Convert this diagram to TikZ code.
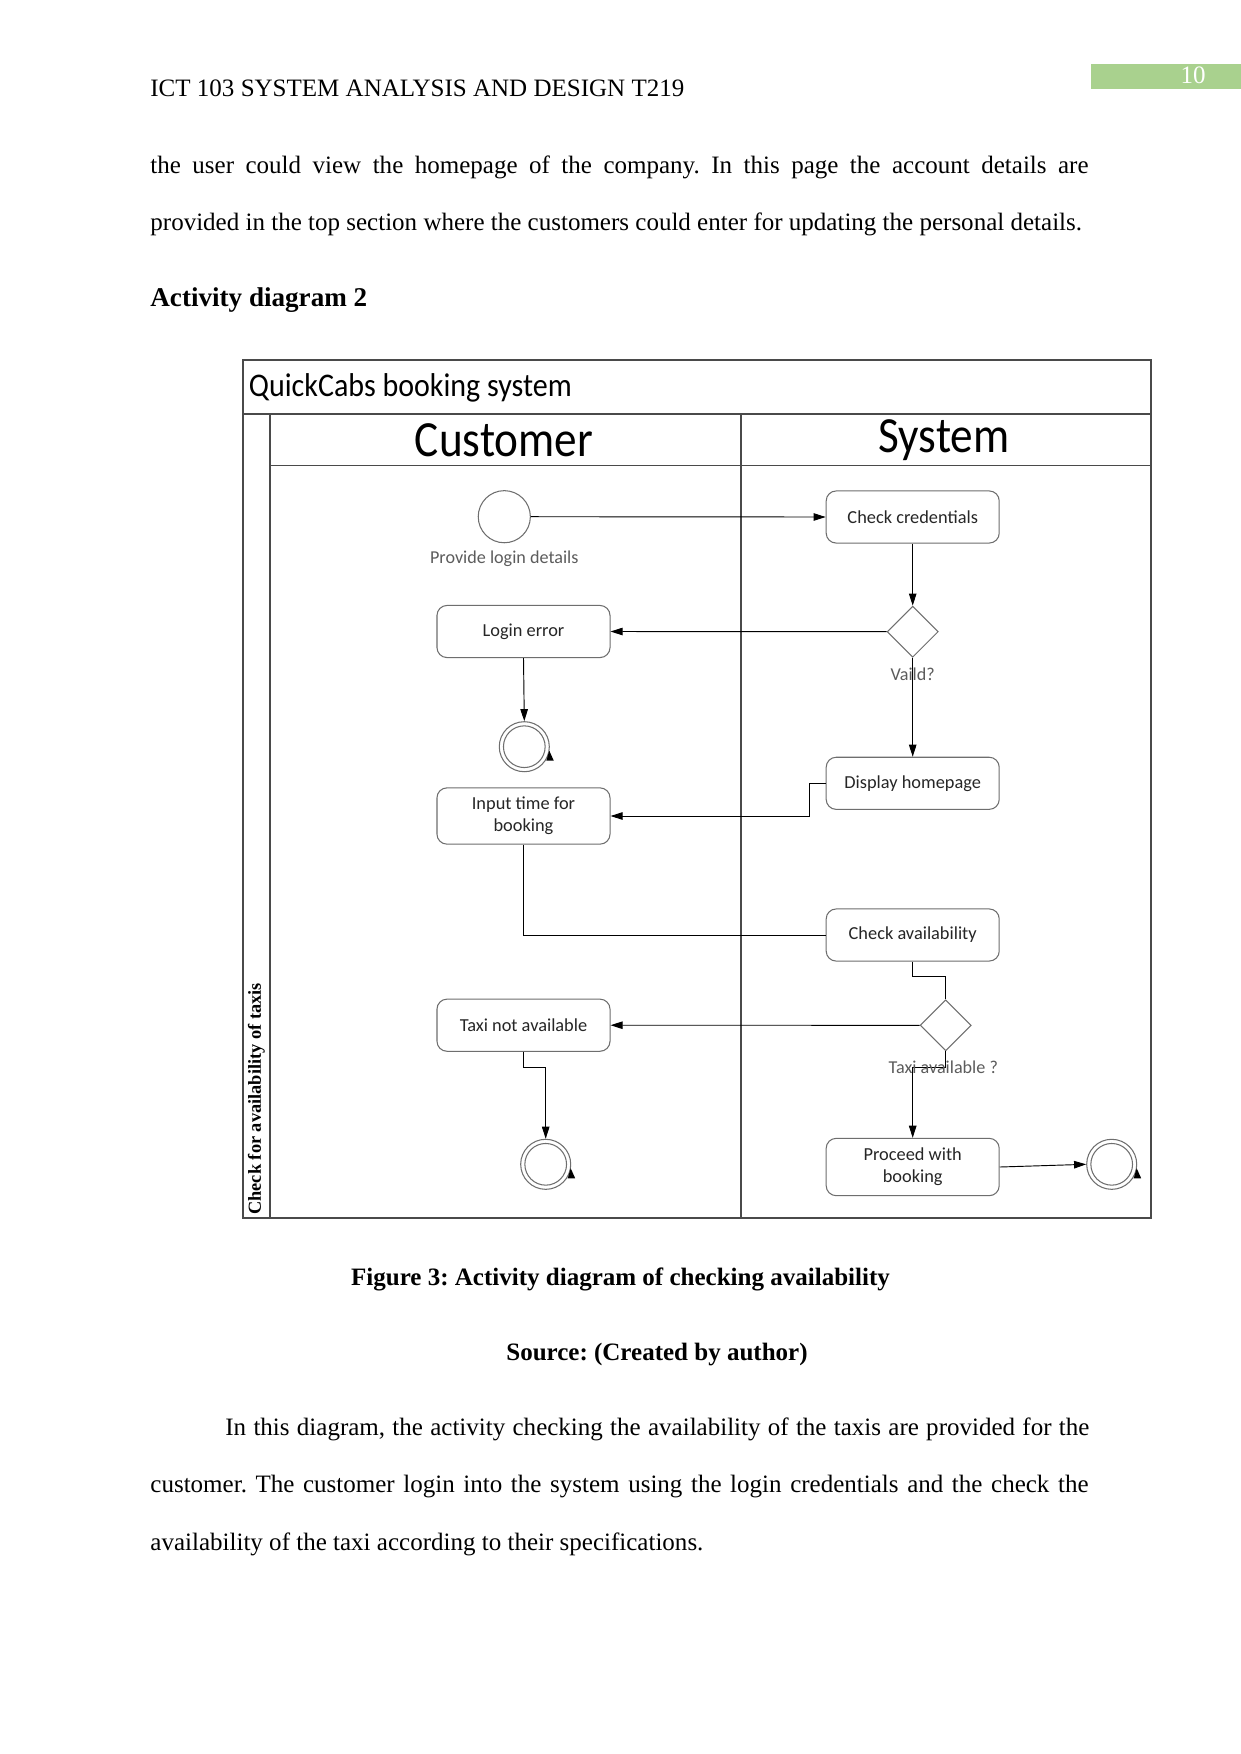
\documentclass[tikz,border=0pt]{standalone}
\usepackage{fontspec}
\setmainfont{Liberation Serif}
\newfontfamily\calfont{Carlito}
\usetikzlibrary{arrows.meta,shapes.geometric}
\definecolor{pggreen}{HTML}{A9D18E}
\definecolor{boxgray}{HTML}{6E6E6E}
\definecolor{lblgray}{HTML}{5C5C5C}
\definecolor{framegray}{HTML}{4A4A4A}
\begin{document}
\frenchspacing
\begin{tikzpicture}[x=0.47968pt,y=-0.47968pt,
  bodytext/.style={inner sep=0pt,font=\fontsize{12}{14}\selectfont,text=black},
  actbox/.style={rectangle,rounded corners=4.8pt,draw=boxgray,line width=0.5pt,fill=white,
    minimum width=83pt,minimum height=25pt,inner sep=1pt,align=center,
    font=\calfont\fontsize{8.8}{10.4}\selectfont,text=black!85},
  decbox/.style={diamond,draw=boxgray,line width=0.5pt,fill=white,inner sep=0pt,
    minimum width=24.5pt,minimum height=24.5pt,shape aspect=1},
  startnode/.style={circle,draw=boxgray,line width=0.5pt,fill=white,inner sep=0pt,minimum size=25pt},
  finalnode/.style={circle,draw=boxgray,line width=0.5pt,fill=white,inner sep=0pt,minimum size=24pt},
  lbl/.style={inner sep=0pt,font=\calfont\fontsize{8.7}{10}\selectfont,text=lblgray},
  conn/.style={line width=0.45pt,draw=black},
  arr/.style={conn,-{Triangle[length=5.8pt,width=3.6pt]}},
  frame/.style={line width=0.55pt,draw=framegray}
]
\useasboundingbox (0,0) rectangle (1241,1754);
\fill[white] (0,0) rectangle (1241,1754);

% page header
\node[bodytext,anchor=mid west] (hdr) at (150,91.8) {ICT 103 SYSTEM ANALYSIS AND DESIGN T219};
\node[fill=pggreen,minimum width=72pt,minimum height=12.3pt,inner sep=0pt] (pg) at (1166,76.6) {};
\node[bodytext,text=white] (pgn) at (1193,75.5) {10};

% body text above
\node[bodytext,anchor=mid west] (b1) at (150,169) {\makebox[450pt][s]{the user could view the homepage of the company. In this page the account details are}};
\node[bodytext,anchor=mid west] (b2) at (150,226.1) {provided in the top section where the customers could enter for updating the personal details.};
\node[bodytext,anchor=mid west,font=\bfseries\fontsize{13}{15}\selectfont] (h2) at (150,302.2) {Activity diagram 2};

% swimlane frame
\draw[frame] (243,360) rectangle (1151,1218);
\draw[frame] (243,414) -- (1151,414);
\draw[frame] (270,465.5) -- (1151,465.5);
\draw[frame] (270,414) -- (270,1218);
\draw[frame] (741,414) -- (741,1218);

\node[anchor=mid west,inner sep=0pt,font=\calfont\fontsize{14.4}{16}\selectfont] (title) at (248.4,391.5) {\scalebox{1}[1.1]{QuickCabs booking system}};
\node[font=\calfont\fontsize{21.7}{24}\selectfont] (cust) at (504,440.5) {\scalebox{1}[1.12]{Customer}};
\node[font=\calfont\fontsize{21.7}{24}\selectfont] (sys) at (944,440.5) {\scalebox{1}[1.12]{System}};
\node[rotate=90,anchor=west,inner sep=0pt,font=\bfseries\fontsize{8.8}{10}\selectfont] (lanelbl) at (256.5,1215) {Check for availability of taxis};

% activity nodes
\node[startnode] (s) at (504.3,516.7) {};
\node[lbl] (sl) at (504.3,559) {Provide login details};
\node[actbox] (cc) at (912.7,517) {Check credentials};
\node[decbox] (v) at (912.7,631.7) {};
\node[actbox] (le) at (523.5,631.5) {Login error};
\node[finalnode] (f1) at (524.3,746.7) {};
\node[actbox] (dh) at (912.7,783.3) {Display homepage};
\node[actbox,minimum height=27pt] (it) at (523.5,816) {Input time for\\booking};
\node[actbox] (ca) at (912.7,935) {Check availability};
\node[decbox] (ta) at (945.7,1025.3) {};
\node[actbox] (tn) at (523.5,1025.2) {Taxi not available};
\node[finalnode] (f2) at (545.7,1164.3) {};
\node[actbox,minimum height=27.5pt] (pb) at (912.7,1167) {Proceed with\\booking};
\node[finalnode] (f3) at (1111.7,1164.3) {};

% final node decorations
\foreach \n in {f1,f2,f3}{
  \draw[boxgray,line width=0.5pt] (\n.center) circle (10pt);
  \fill[black,shift={(\n.center)}] (22,14) -- (29.5,14) -- (25,4) -- cycle;
}

% connectors
\draw[arr] (s.east) -- (cc.west);
\draw[arr] (cc.south) -- (v.north);
\draw[arr] (v.west) -- (le.east);
\draw[arr] (le.south) -- (f1.north);
\draw[arr] (v.south) -- (dh.north);
\draw[arr] (dh.west) -- ++(-16,0) |- (it.east);
\draw[conn] (it.south) |- (ca.west);
\draw[conn] (ca.south) -- ++(0,15) -| (ta.north);
\draw[arr] (ta.west) -- (tn.east);
\draw[arr] (tn.south) -- ++(0,16) -| (f2.north);
\draw[arr] (ta.south) -- ++(0,16.5) -| (pb.north);
\draw[arr] (pb.east) -- (f3.west);

\node[lbl] (vl) at (912.7,674) {Vaild?};
\node[lbl] (tal) at (943.3,1067.3) {Taxi available ?};

% caption and text below
\node[bodytext,font=\bfseries\fontsize{12}{14}\selectfont] (cap) at (620.5,1279.5) {Figure 3: Activity diagram of checking availability};
\node[bodytext,font=\bfseries\fontsize{12}{14}\selectfont] (src) at (657,1354.5) {Source: (Created by author)};
\node[bodytext,anchor=mid west] (p1) at (225,1430.4) {\makebox[414.4pt][s]{In this diagram, the activity checking the availability of the taxis are provided for the}};
\node[bodytext,anchor=mid west] (p2) at (150,1487.4) {\makebox[450pt][s]{customer. The customer login into the system using the login credentials and the check the}};
\node[bodytext,anchor=mid west] (p3) at (150,1545.4) {availability of the taxi according to their specifications.};
\end{tikzpicture}
\end{document}
